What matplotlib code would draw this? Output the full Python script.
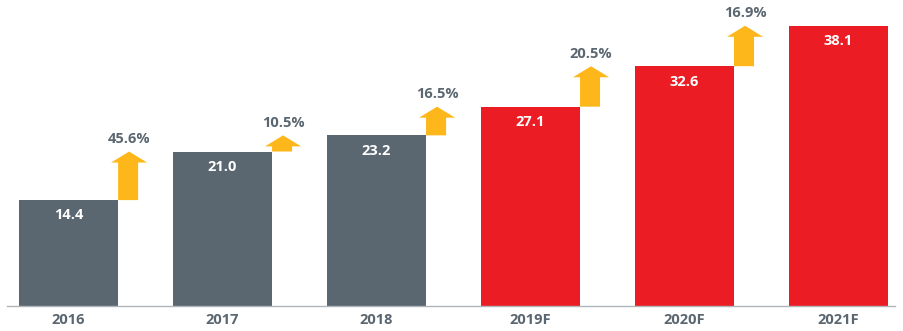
import matplotlib.pyplot as plt
from matplotlib.patches import Polygon

years = ["2016", "2017", "2018", "2019F", "2020F", "2021F"]
values = [14.4, 21.0, 23.2, 27.1, 32.6, 38.1]
growth = ["45.6%", "10.5%", "16.5%", "20.5%", "16.9%"]
forecast = [False, False, False, True, True, True]

GRAY = "#5a6670"
RED = "#ec1c24"
GOLD = "#fdb71a"

plt.rcParams["font.family"] = ["Open Sans", "DejaVu Sans"]

fig = plt.figure(figsize=(9.04, 3.31), dpi=100)
ax = fig.add_axes([7 / 904, 25 / 331, 888 / 904, 306 / 331])

x = list(range(len(years)))
w = 0.643
colors = [RED if f else GRAY for f in forecast]
ax.bar(x, values, width=w, color=colors)

for xi, v in zip(x, values):
    ax.annotate(f"{v:.1f}", (xi, v), xytext=(0, -6), textcoords="offset points",
                ha="center", va="top", color="white", fontsize=10.5, fontweight="bold")

# growth arrows: from top of previous bar up to top of the next one
head_h = 1.5
for i, g in enumerate(growth):
    lo, hi = values[i], values[i + 1]
    b0 = x[i] + w / 2
    b1 = b0 + 0.13
    h0 = x[i] + 0.276
    h1 = x[i] + 0.51
    pts = [(b0, lo), (b1, lo), (b1, hi - head_h), (h1, hi - head_h),
           ((h0 + h1) / 2, hi), (h0, hi - head_h), (b0, hi - head_h)]
    ax.add_patch(Polygon(pts, closed=True, color=GOLD, lw=0))
    ax.annotate(g, ((h0 + h1) / 2, hi), xytext=(0, 4), textcoords="offset points",
                ha="center", va="bottom", color=GRAY, fontsize=10.5, fontweight="bold")

ax.set_xlim(-0.40, 5.367)
ax.set_ylim(0, 41.6)
ax.set_xticks(x)
ax.set_xticklabels(years, color=GRAY, fontsize=10.5, fontweight="bold")
ax.tick_params(axis="x", length=0, pad=5)
ax.set_yticks([])
for s in ["top", "right", "left"]:
    ax.spines[s].set_visible(False)
ax.spines["bottom"].set_color("#b0b5ba")
ax.spines["bottom"].set_linewidth(1)

fig.savefig("out.png", dpi=100)
